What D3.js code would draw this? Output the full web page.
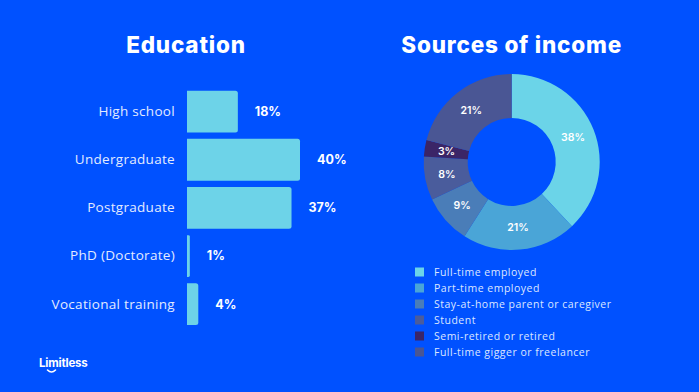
<!DOCTYPE html>
<html>
<head>
<meta charset="utf-8">
<script src="https://cdn.jsdelivr.net/npm/d3@7"></script>
<style>
  html, body { margin: 0; padding: 0; background: #0051ff; }
  svg { display: block; }
</style>
</head>
<body>
<div id="chart"></div>
<script>
// education bars
const eduLevels = ['High school', 'Undergraduate', 'Postgraduate', 'PhD (Doctorate)', 'Vocational training'];
const eduValues = [18, 40, 37, 1, 4];

// income donut
const incomeSources = ['Full-time employed', 'Part-time employed', 'Stay-at-home parent or caregiver',
    'Student', 'Semi-retired or retired', 'Full-time gigger or freelancer'];
const incomeValues = [38, 21, 9, 8, 3, 21];
const incomeColors = ['#6bd4e8', '#4aa5d7', '#4a7db8', '#4a5c9c', '#3b2567', '#4a5694'];

const width = 699, height = 392;
const font = "'Open Sans', sans-serif";

const svg = d3.select('#chart').append('svg')
    .attr('width', width)
    .attr('height', height);

svg.append('rect').attr('width', width).attr('height', height).attr('fill', '#0051ff');

//----- left: education -----
svg.append('text')
    .attr('x', 186).attr('y', 53)
    .attr('text-anchor', 'middle')
    .attr('fill', '#fff')
    .style('font-family', "Inter, sans-serif")
    .style('font-weight', 800)
    .style('font-size', '22.5px')
    .style('letter-spacing', '0.8px')
    .text('Education');

const x = d3.scaleLinear().domain([0, 40]).range([187, 300]);
const y = d3.scaleBand().domain(eduLevels).range([90.7, 325.1]).paddingInner(0.132).paddingOuter(0);

const bars = svg.append('g');
bars.selectAll('path')
    .data(eduValues)
    .enter()
    .append('path')
    .attr('fill', '#6dd3e8')
    .attr('d', (d, i) => {
        const x0 = x(0), x1 = x(d), y0 = y(eduLevels[i]), h = y.bandwidth();
        const r = Math.min(2.5, (x1 - x0) / 2);
        return `M${x0},${y0}H${x1 - r}Q${x1},${y0} ${x1},${y0 + r}V${y0 + h - r}Q${x1},${y0 + h} ${x1 - r},${y0 + h}H${x0}Z`;
    });

const yAxis = svg.append('g')
    .attr('transform', 'translate(187,0)')
    .call(d3.axisLeft(y).tickSize(0).tickPadding(12));
yAxis.select('.domain').remove();
yAxis.selectAll('text')
    .attr('fill', '#e3ebff')
    .style('font-family', font)
    .style('font-size', '13.5px')
    .style('letter-spacing', '0.3px');

bars.selectAll('text')
    .data(eduValues)
    .enter()
    .append('text')
    .attr('x', d => x(d) + 17)
    .attr('y', (d, i) => y(eduLevels[i]) + y.bandwidth() / 2)
    .attr('dy', '0.35em')
    .attr('fill', '#fff')
    .style('font-family', "Inter, sans-serif")
    .style('font-weight', 700)
    .style('font-size', '12.5px')
    .text(d => d + '%');

//----- right: sources of income -----
svg.append('text')
    .attr('x', 511.7).attr('y', 53)
    .attr('text-anchor', 'middle')
    .attr('fill', '#fff')
    .style('font-family', "Inter, sans-serif")
    .style('font-weight', 800)
    .style('font-size', '22.5px')
    .style('letter-spacing', '0.8px')
    .text('Sources of income');

const cx = 511.7, cy = 162;
const pie = d3.pie().sort(null).value(d => d)(incomeValues);
const arc = d3.arc().innerRadius(44).outerRadius(88);

const donut = svg.append('g').attr('transform', `translate(${cx},${cy})`);
donut.selectAll('path')
    .data(pie)
    .enter()
    .append('path')
    .attr('d', arc)
    .attr('fill', (d, i) => incomeColors[i]);

donut.selectAll('text')
    .data(pie)
    .enter()
    .append('text')
    .attr('transform', d => `translate(${arc.centroid(d)})`)
    .attr('text-anchor', 'middle')
    .attr('dy', '0.35em')
    .attr('fill', '#fff')
    .style('font-family', "Inter, sans-serif")
    .style('font-weight', 600)
    .style('font-size', '10.5px')
    .text(d => d.data + '%');

// legend
const legend = svg.append('g').attr('transform', 'translate(415,272)');
const rows = legend.selectAll('g')
    .data(incomeSources)
    .enter()
    .append('g')
    .attr('transform', (d, i) => `translate(0,${i * 16})`);
rows.append('rect')
    .attr('x', 0).attr('y', -4.5)
    .attr('width', 9).attr('height', 9)
    .attr('fill', (d, i) => incomeColors[i]);
rows.append('text')
    .attr('x', 19).attr('dy', '0.35em')
    .attr('fill', '#dce6ff')
    .style('font-family', font)
    .style('font-size', '10.5px')
    .style('letter-spacing', '0.5px')
    .text(d => d);

//----- logo -----
const logo = svg.append('g').attr('transform', 'translate(39,367)');
logo.append('text')
    .attr('fill', '#fff')
    .style('font-family', "Inter, sans-serif")
    .style('font-weight', 700)
    .style('font-size', '11.5px')
    .style('letter-spacing', '-0.2px')
    .text('Limitless');
logo.append('path')
    .attr('d', 'M8.5,3 Q12.5,7 16.5,3')
    .attr('fill', 'none')
    .attr('stroke', '#fff')
    .attr('stroke-width', 1.6)
    .attr('stroke-linecap', 'round');
</script>
</body>
</html>
